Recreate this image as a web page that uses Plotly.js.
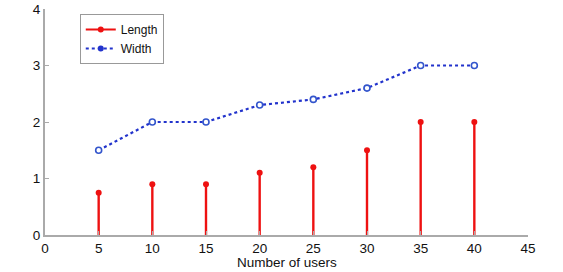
<!DOCTYPE html>
<html>
<head>
<script src="https://cdn.plot.ly/plotly-3.0.1.min.js"></script>
<style>html,body{margin:0;padding:0;background:#fff;}#c{width:563px;height:272px;}</style>
</head>
<body>
<div id="c"></div>
<script>
var users = [5, 10, 15, 20, 25, 30, 35, 40];
var lengthVals = [0.75, 0.9, 0.9, 1.1, 1.2, 1.5, 2, 2];
var widthVals = [1.5, 2, 2, 2.3, 2.4, 2.6, 3, 3];
var xTicks = [0, 5, 10, 15, 20, 25, 30, 35, 40, 45];
var yTicks = [0, 1, 2, 3, 4];

var red = '#ee1111';
var blue = '#2233cc';

var zeros = lengthVals.map(function(){return 0;});

var traces = [
  {
    x: users, y: lengthVals, type: 'scatter', mode: 'markers',
    marker: {color: red, size: 6},
    error_y: {type: 'data', symmetric: false, array: zeros, arrayminus: lengthVals, width: 0, thickness: 2.4, color: red},
    showlegend: false, hoverinfo: 'x+y'
  },
  {
    x: users, y: widthVals, type: 'scatter', mode: 'lines+markers',
    line: {color: blue, width: 2.2, dash: 'dot'},
    marker: {color: 'white', size: 6, line: {color: '#3355cc', width: 1.6}},
    showlegend: false
  },
  {
    x: [null], y: [null], type: 'scatter', mode: 'lines+markers', name: 'Length',
    line: {color: red, width: 2}, marker: {color: red, size: 6}
  },
  {
    x: [null], y: [null], type: 'scatter', mode: 'lines+markers', name: 'Width',
    line: {color: blue, width: 2, dash: 'dot'}, marker: {color: blue, size: 6}
  }
];

var layout = {
  width: 563, height: 272,
  margin: {l: 45, r: 35, t: 9, b: 37},
  paper_bgcolor: '#fff', plot_bgcolor: '#fff',
  font: {family: 'Liberation Sans, Arial, sans-serif', size: 13, color: '#111'},
  showlegend: true,
  legend: {
    x: 0.072, y: 0.978, xanchor: 'left', yanchor: 'top',
    bordercolor: '#999', borderwidth: 1, bgcolor: '#fff',
    font: {size: 12}, tracegroupgap: 0, itemwidth: 30
  },
  xaxis: {
    range: [0, 45], tickvals: xTicks, ticktext: xTicks.map(String),
    showgrid: false, zeroline: false, showline: true, linecolor: '#aaa', linewidth: 2,
    ticks: 'inside', ticklen: 4, tickcolor: '#aaa', mirror: false,
    tickfont: {size: 13.5}
  },
  yaxis: {
    range: [0, 4], tickvals: yTicks, ticktext: yTicks.map(String),
    showgrid: false, zeroline: false, showline: true, linecolor: '#aaa', linewidth: 2,
    ticks: 'inside', ticklen: 4, tickcolor: '#aaa',
    tickfont: {size: 13.5}
  },
  annotations: [{
    text: 'Number of users', xref: 'paper', yref: 'paper', x: 0.5, y: 0,
    xanchor: 'center', yanchor: 'top', yshift: -17.5, showarrow: false,
    font: {size: 13.5, color: '#111'}
  }]
};

Plotly.newPlot('c', traces, layout, {staticPlot: true, displayModeBar: false});
</script>
</body>
</html>
